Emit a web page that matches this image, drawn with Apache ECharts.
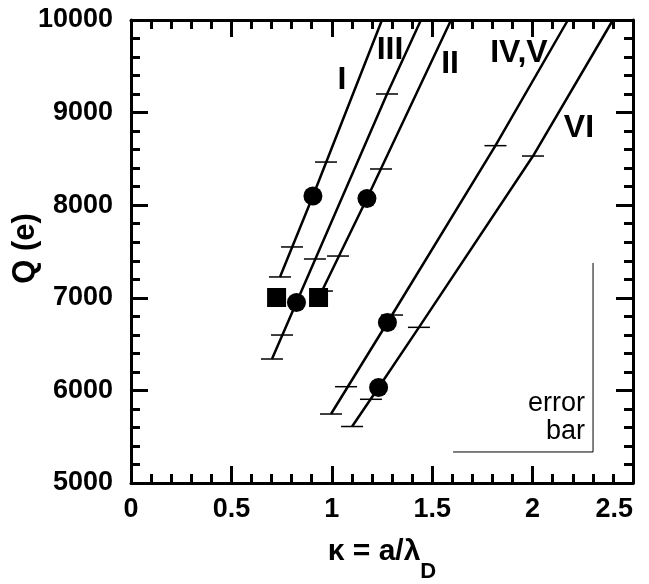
<!DOCTYPE html>
<html>
<head>
<meta charset="utf-8">
<title>Q vs kappa</title>
<script src="https://cdn.jsdelivr.net/npm/echarts@6/dist/echarts.min.js"></script>
<style>
    html, body {margin: 0; padding: 0; background: #fff;}
    #chart {width: 649px; height: 584px;}
</style>
</head>
<body>
<div id="chart"></div>
<script>
// axis ticks
const kappaTicks = [0, 0.5, 1, 1.5, 2, 2.5];
const qTicks = [5000, 6000, 7000, 8000, 9000, 10000];

// fitted lines [kappa, Q]
const lineI = [[0.742, 7225], [0.906, 8099], [1.250, 10000]];
const lineIII = [[0.702, 6339], [0.824, 6949], [1.275, 9201], [1.444, 10000]];
const lineII = [[0.951, 7073], [1.175, 8072], [1.594, 10000]];
const lineIVV = [[0.996, 5745], [1.277, 6733], [1.815, 8643], [2.176, 10000]];
const lineVI = [[1.101, 5610], [1.233, 6031], [1.434, 6681], [2.002, 8531], [2.400, 10000]];

// little horizontal marks sitting on the lines
const capsI = [[0.742, 7225], [0.802, 7549], [0.971, 8466]];
const capsIII = [[0.702, 6339], [0.752, 6598], [0.916, 7419], [1.275, 9201]];
const capsII = [[0.951, 7073], [1.031, 7451], [1.245, 8391]];
const capsIVV = [[0.996, 5745], [1.071, 6040], [1.300, 6814], [1.815, 8643]];
const capsVI = [[1.101, 5610], [1.195, 5904], [1.434, 6681], [2.002, 8531]];

// measured points
const circles = [[0.906, 8099], [0.824, 6949], [1.175, 8072], [1.277, 6733], [1.233, 6031]];
const squares = [[0.725, 7003], [0.934, 7003]];

// error bar size guide
const errorGuide = [[1.604, 5335], [2.301, 5335], [2.301, 7376]];

// curve names
const curveLabels = [
    {name: 'I', value: [1.051, 9352]},
    {name: 'III', value: [1.290, 9676]},
    {name: 'II', value: [1.589, 9525]},
    {name: 'IV,V', value: [1.932, 9644]},
    {name: 'VI', value: [2.231, 8834]}
];
const guideLabels = [
    {name: 'error', value: [2.261, 5853]},
    {name: 'bar', value: [2.261, 5560]}
];

const FONT = '"Liberation Sans", Arial, Helvetica, sans-serif';
const black = '#000';

function frameAxis(pos, isX, ticks, show) {
    let step = ticks[1] - ticks[0];
    return {
        type: 'value',
        position: pos,
        min: ticks[0],
        max: ticks[ticks.length - 1],
        interval: step,
        splitLine: {show: false},
        axisLine: {show: true, onZero: false, lineStyle: {color: black, width: 3}},
        axisTick: {show: true, inside: true, length: 17, lineStyle: {color: black, width: 3}},
        minorTick: {show: true, splitNumber: 5, length: 9, lineStyle: {color: black, width: 3}},
        axisLabel: {
            show: show,
            color: black,
            fontFamily: FONT,
            fontSize: 27,
            fontWeight: 'bold',
            margin: isX ? 13 : 18,
            formatter: v => String(v)
        }
    };
}

function curve(data) {
    return {
        type: 'line',
        data: data,
        showSymbol: false,
        symbol: 'none',
        lineStyle: {color: black, width: 2.5},
        silent: true,
        z: 2
    };
}

function caps(data) {
    return {
        type: 'scatter',
        data: data,
        symbol: 'rect',
        symbolSize: [22, 1.5],
        itemStyle: {color: black, opacity: 1},
        silent: true,
        z: 3
    };
}

function textLayer(data, fontSize, weight, pos) {
    return {
        type: 'scatter',
        data: data,
        symbolSize: 0,
        itemStyle: {color: black, opacity: 1},
        label: {
            show: true,
            position: pos,
            distance: 0,
            formatter: p => p.name,
            color: black,
            opacity: 1,
            fontFamily: FONT,
            fontSize: fontSize,
            fontWeight: weight
        },
        silent: true,
        z: 5
    };
}

let xBottom = frameAxis('bottom', true, kappaTicks, true);
xBottom.axisLabel.alignMaxLabel = 'right';
xBottom.name = '{m|\u03ba = a/\u03bb}{s|D}';
xBottom.nameLocation = 'middle';
xBottom.nameGap = 38;
xBottom.nameTextStyle = {
    rich: {
        m: {fontFamily: FONT, fontSize: 30, fontWeight: 'bold', color: black},
        s: {fontFamily: FONT, fontSize: 22, fontWeight: 'bold', color: black, padding: [40, 0, 0, 0]}
    }
};
let yLeft = frameAxis('left', false, qTicks, true);
yLeft.name = 'Q (e)';
yLeft.nameLocation = 'middle';
yLeft.nameGap = 90;
yLeft.nameMoveOverlap = false;
yLeft.nameTextStyle = {fontFamily: FONT, fontSize: 31, fontWeight: 'bold', color: black, padding: [0, 0, 0, 6]};

let option = {
    backgroundColor: '#fff',
    animation: false,
    grid: {left: 131, right: 16, top: 20, bottom: 101, containLabel: false, outerBoundsMode: 'none'},
    xAxis: [xBottom, frameAxis('top', true, kappaTicks, false)],
    yAxis: [yLeft, frameAxis('right', false, qTicks, false)],
    series: [
        curve(lineI),
        curve(lineIII),
        curve(lineII),
        curve(lineIVV),
        curve(lineVI),
        caps(capsI),
        caps(capsIII),
        caps(capsII),
        caps(capsIVV),
        caps(capsVI),
        {
            type: 'line',
            data: errorGuide,
            showSymbol: false,
            symbol: 'none',
            lineStyle: {color: black, width: 1},
            silent: true
        },
        {
            type: 'scatter',
            data: circles,
            symbol: 'circle',
            symbolSize: 19,
            itemStyle: {color: black, opacity: 1},
            z: 4
        },
        {
            type: 'scatter',
            data: squares,
            symbol: 'rect',
            symbolSize: 19,
            itemStyle: {color: black, opacity: 1},
            z: 4
        },
        textLayer(curveLabels, 32, 'bold', 'inside'),
        textLayer(guideLabels, 27, 'normal', 'left')
    ]
};

let myChart = echarts.init(document.getElementById('chart'), null, {renderer: 'canvas'});
myChart.setOption(option);
</script>
</body>
</html>
